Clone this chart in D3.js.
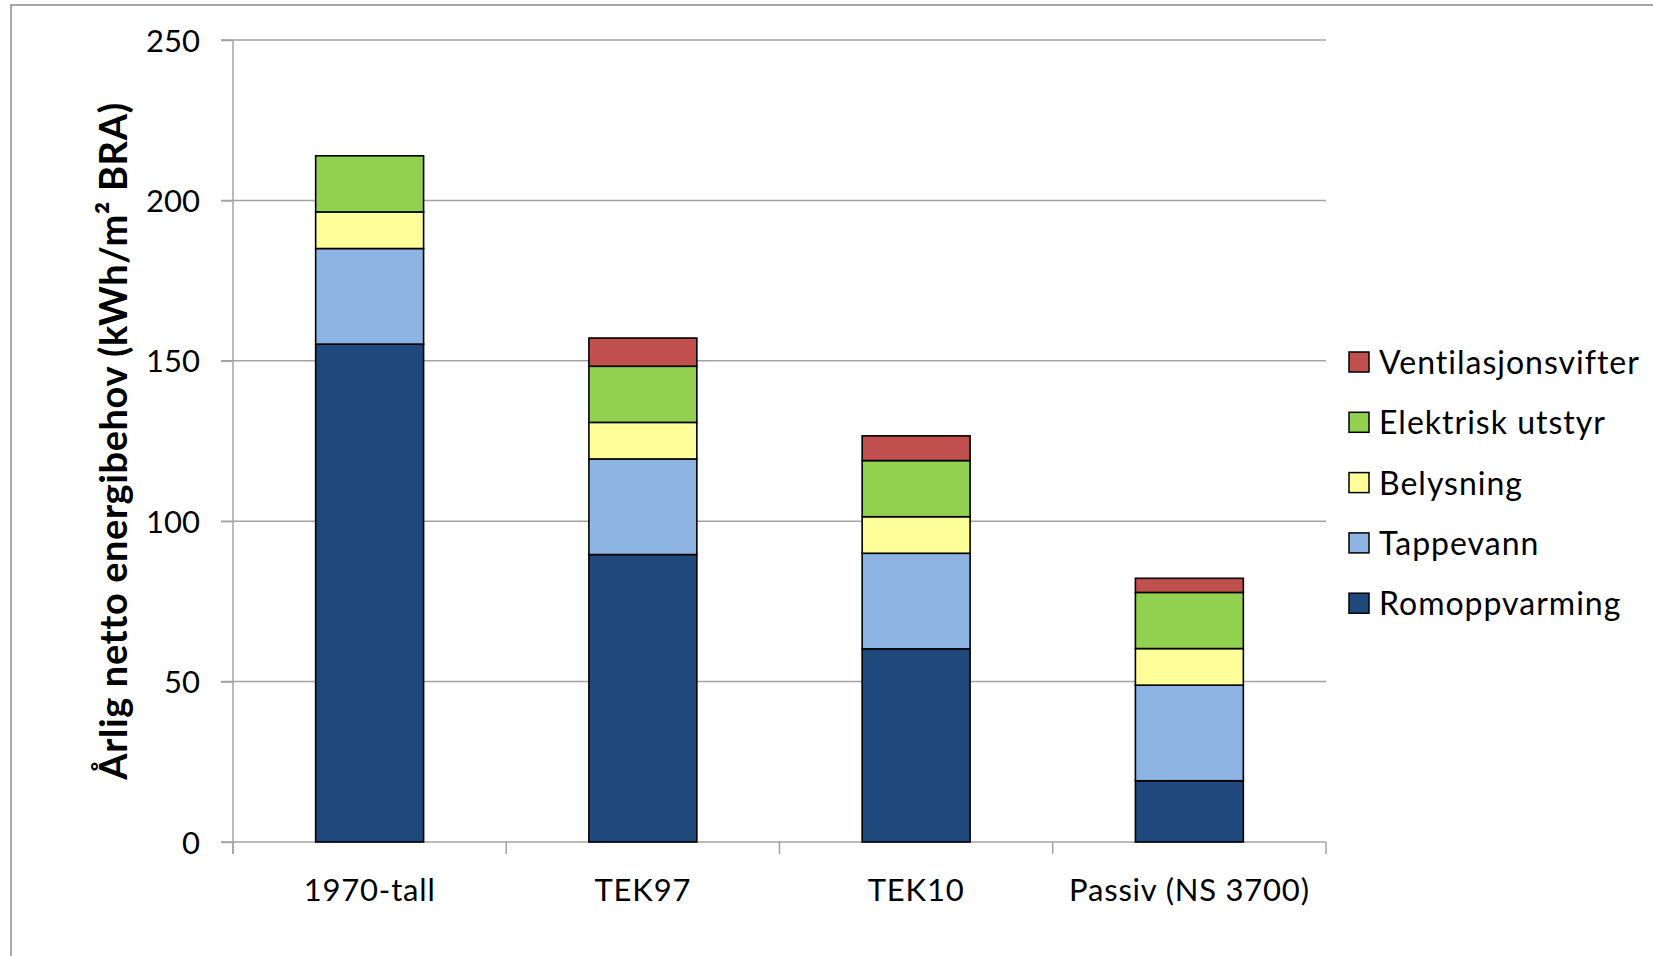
<!DOCTYPE html>
<html>
<head>
<meta charset="utf-8">
<script src="https://cdn.jsdelivr.net/npm/d3@7"></script>
<style>
  html, body { margin: 0; padding: 0; background: #ffffff; }
  svg { display: block; }
  text { font-family: Lato, "Open Sans", sans-serif; fill: #000; }
</style>
</head>
<body>
<svg id="chart" width="1653" height="956"></svg>
<script>
// Categories (building standards)
const categories = ["1970-tall", "TEK97", "TEK10", "Passiv (NS 3700)"];

// Annual net energy demand per end use, kWh/m² BRA
const romoppvarming = [155.2, 89.6, 60.2, 19.1];
const tappevann = [29.8, 29.8, 29.8, 29.8];
const belysning = [11.4, 11.4, 11.4, 11.4];
const elektriskUtstyr = [17.5, 17.5, 17.5, 17.5];
const ventilasjonsvifter = [0, 8.8, 7.7, 4.4];

// Stack order bottom → top
const seriesNames = ["Romoppvarming", "Tappevann", "Belysning", "Elektrisk utstyr", "Ventilasjonsvifter"];
const seriesValues = [romoppvarming, tappevann, belysning, elektriskUtstyr, ventilasjonsvifter];
const seriesColors = ["#1F497D", "#8EB4E3", "#FFFF99", "#92D050", "#C0504D"];

const yTicks = [0, 50, 100, 150, 200, 250];
const yTitle = "Årlig netto energibehov (kWh/m² BRA)";

const svg = d3.select("#chart");

// Outer chart frame
svg.append("rect")
  .attr("x", 11).attr("y", 5)
  .attr("width", 1700).attr("height", 1000)
  .attr("fill", "#fff")
  .attr("stroke", "#8a8a8a")
  .attr("stroke-width", 1.5);

const plot = { left: 233, right: 1326, top: 40, bottom: 842 };

const x = d3.scaleBand()
  .domain(categories)
  .range([plot.left, plot.right])
  .paddingInner(0.605)
  .paddingOuter(0.3025);

const y = d3.scaleLinear()
  .domain([0, 250])
  .range([plot.bottom, plot.top]);

const gridColor = "#a3a3a3";

// Horizontal gridlines
svg.append("g")
  .selectAll("line")
  .data(yTicks)
  .join("line")
  .attr("x1", plot.left - 12)
  .attr("x2", plot.right)
  .attr("y1", d => y(d))
  .attr("y2", d => y(d))
  .attr("stroke", gridColor)
  .attr("stroke-width", 1.5);

// Y axis
const yAxis = svg.append("g")
  .attr("transform", `translate(${plot.left},0)`)
  .call(d3.axisLeft(y).tickValues(yTicks).tickSize(12).tickSizeOuter(0).tickPadding(21));
yAxis.select(".domain").attr("stroke", gridColor).attr("stroke-width", 1.5)
  .attr("d", `M0,${plot.bottom + 12}V${plot.top}`);
yAxis.selectAll(".tick line").attr("stroke", gridColor).attr("stroke-width", 1.5);
yAxis.selectAll(".tick text")
  .attr("font-size", 31)
  .attr("font-family", "Lato, sans-serif")
  .attr("fill", "#000")
  .attr("dy", "0.36em");

// X axis: category labels and band boundary ticks
const xAxis = svg.append("g")
  .attr("transform", `translate(0,${plot.bottom})`)
  .call(d3.axisBottom(x).tickSize(0).tickPadding(0));
xAxis.select(".domain").remove();
xAxis.selectAll(".tick text")
  .attr("font-size", 31)
  .attr("font-family", "Lato, sans-serif")
  .attr("letter-spacing", 0.8)
  .attr("fill", "#000")
  .attr("y", 59)
  .attr("dy", 0);

const boundaries = d3.range(categories.length + 1).map(i => plot.left + i * x.step());
svg.append("g")
  .selectAll("line")
  .data(boundaries)
  .join("line")
  .attr("x1", d => d).attr("x2", d => d)
  .attr("y1", plot.bottom).attr("y2", plot.bottom + 12)
  .attr("stroke", gridColor)
  .attr("stroke-width", 1.5);

// Stacked bars
const rows = categories.map((c, i) => {
  const r = { category: c };
  seriesNames.forEach((s, k) => { r[s] = seriesValues[k][i]; });
  return r;
});
const stack = d3.stack().keys(seriesNames)(rows);

svg.append("g")
  .selectAll("g")
  .data(stack)
  .join("g")
  .attr("fill", (d, k) => seriesColors[k])
  .selectAll("rect")
  .data(d => d.filter(p => p[1] - p[0] > 0))
  .join("rect")
  .attr("x", d => x(d.data.category))
  .attr("width", x.bandwidth())
  .attr("y", d => y(d[1]))
  .attr("height", d => y(d[0]) - y(d[1]))
  .attr("stroke", "#000")
  .attr("stroke-width", 1.6);

// Y axis title
svg.append("text")
  .attr("transform", `translate(112,441) rotate(-90)`)
  .attr("text-anchor", "middle")
  .attr("dominant-baseline", "central")
  .attr("font-size", 38)
  .attr("font-weight", "bold")
  .attr("letter-spacing", 0.6)
  .text(yTitle);

// Legend (top series first)
const legendOrder = d3.range(seriesNames.length).reverse();
const legend = svg.append("g")
  .selectAll("g")
  .data(legendOrder)
  .join("g")
  .attr("transform", (k, i) => `translate(1349,${362 + i * 60.3})`);
legend.append("rect")
  .attr("x", 0).attr("y", -10)
  .attr("width", 20).attr("height", 20)
  .attr("fill", k => seriesColors[k])
  .attr("stroke", "#000")
  .attr("stroke-width", 1.5);
legend.append("text")
  .attr("x", 30)
  .attr("y", 12)
  .attr("font-size", 32)
  .attr("letter-spacing", 1)
  .text(k => seriesNames[k]);
</script>
</body>
</html>
